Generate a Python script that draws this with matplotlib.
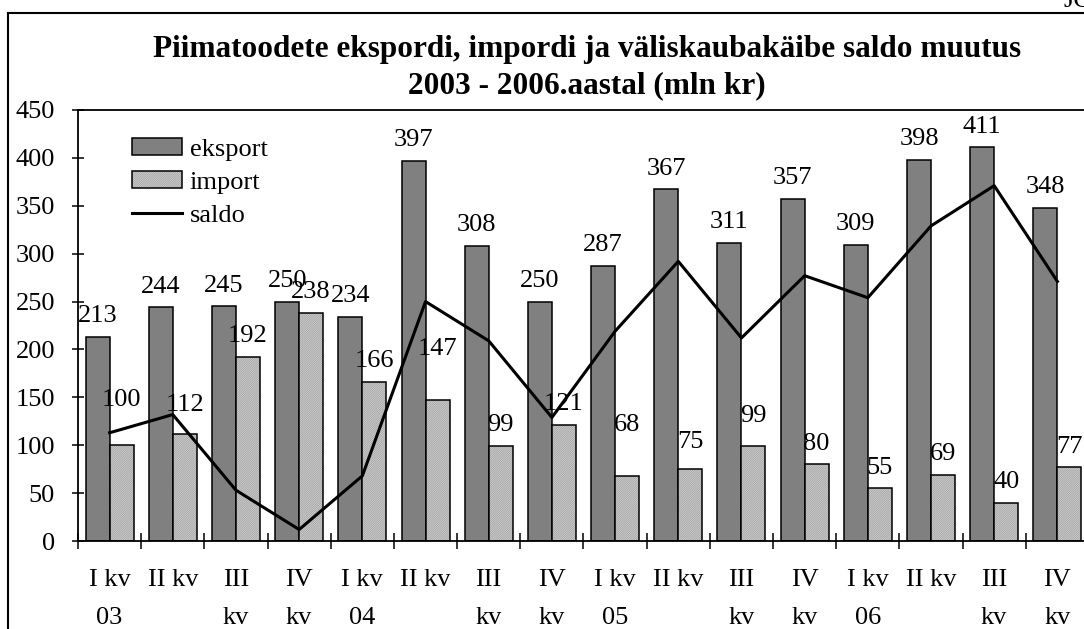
import numpy as np
import matplotlib
matplotlib.use('Agg')
import matplotlib.pyplot as plt
from matplotlib.lines import Line2D
from matplotlib.patches import Patch

#%% data
quarters = ['I kv\n03', 'II kv', 'III\nkv', 'IV\nkv',
            'I kv\n04', 'II kv', 'III\nkv', 'IV\nkv',
            'I kv\n05', 'II kv', 'III\nkv', 'IV\nkv',
            'I kv\n06', 'II kv', 'III\nkv', 'IV\nkv']
eksport = [213, 244, 245, 250, 234, 397, 308, 250, 287, 367, 311, 357, 309, 398, 411, 348]
import_ = [100, 112, 192, 238, 166, 147, 99, 121, 68, 75, 99, 80, 55, 69, 40, 77]
saldo = [e - i for e, i in zip(eksport, import_)]

# extra lift (points) for some import labels, as they were moved in the original
import_lift = {0: 18, 1: 6, 5: 22, 8: 22, 9: 5, 10: 7}

#%% style
plt.rcParams['font.family'] = ['Liberation Serif', 'DejaVu Serif']
plt.rcParams['hatch.linewidth'] = 0.35
fs = 19

fig = plt.figure(figsize=(10.84, 6.29), dpi=100)
ax = fig.add_axes([78 / 1084, 88 / 629, 1011 / 1084, 431 / 629])

x = np.arange(len(quarters))
w = 0.38

ax.bar(x - w / 2, eksport, w, color='#808080', edgecolor='black', linewidth=1.1, zorder=2)
ax.bar(x + w / 2, import_, w, color='#d4d4d4', edgecolor='#8c8c8c', hatch='/' * 18,
       linewidth=0, zorder=2)
ax.bar(x + w / 2, import_, w, fill=False, edgecolor='black', linewidth=1.1, zorder=3)
ax.plot(x, saldo, color='black', linewidth=2.2, zorder=4)

for xi, v in zip(x - w / 2, eksport):
    ax.annotate(str(v), (xi, v), xytext=(0, 7), textcoords='offset points',
                ha='center', va='bottom', fontsize=fs, zorder=5)
for k, (xi, v) in enumerate(zip(x + w / 2, import_)):
    ax.annotate(str(v), (xi, v), xytext=(0, 7 + import_lift.get(k, 0)),
                textcoords='offset points',
                ha='center', va='bottom', fontsize=fs, zorder=5)

#%% axes
ax.set_xlim(-0.5, len(quarters) - 0.5)
ax.set_ylim(0, 450)
ax.set_yticks(np.arange(0, 451, 50))
ax.tick_params(axis='y', direction='inout', length=9, width=1.1, pad=12, labelsize=fs)

ax.set_xticks(np.arange(-0.5, len(quarters), 1))
ax.set_xticklabels([])
ax.set_xticks(x, minor=True)
ax.set_xticklabels(quarters, minor=True, fontsize=fs, linespacing=1.95)
ax.tick_params(axis='x', which='major', direction='inout', length=11, width=1.1)
ax.tick_params(axis='x', which='minor', length=0, pad=20)

for s in ['left', 'top', 'bottom']:
    ax.spines[s].set_linewidth(1.3)
ax.spines['right'].set_visible(False)

#%% legend
h_exp = Patch(facecolor='#808080', edgecolor='black', linewidth=1.1)
h_imp = (Patch(facecolor='#d4d4d4', edgecolor='#8c8c8c', hatch='/' * 18, linewidth=0),
         Patch(fill=False, edgecolor='black', linewidth=1.1))
h_sal = Line2D([], [], color='black', linewidth=2.2)
ax.legend([h_exp, h_imp, h_sal], ['eksport', 'import', 'saldo'],
          loc='upper left', bbox_to_anchor=(0.053, 0.935), frameon=False,
          fontsize=fs, handlelength=1.9, handleheight=0.6, handletextpad=0.3,
          labelspacing=0.4, borderpad=0, borderaxespad=0)

#%% title and frame
fig.text(587 / 1084, 1 - 57 / 629, 'Piimatoodete ekspordi, impordi ja väliskaubakäibe saldo muutus',
         ha='center', va='baseline', fontsize=22.5, fontweight='bold')
fig.text(587 / 1084, 1 - 93 / 629, '2003 - 2006.aastal (mln kr)',
         ha='center', va='baseline', fontsize=22.5, fontweight='bold')
fig.text(1063 / 1084, 1 - 7 / 629, 'JO', ha='left', va='baseline', fontsize=fs)

fig.add_artist(Line2D([8 / 1084, 8 / 1084], [0, 1 - 13 / 629], color='black', linewidth=1.5))
fig.add_artist(Line2D([8 / 1084, 1], [1 - 13 / 629, 1 - 13 / 629], color='black', linewidth=1.5))

fig.savefig('out.png', dpi=100)
